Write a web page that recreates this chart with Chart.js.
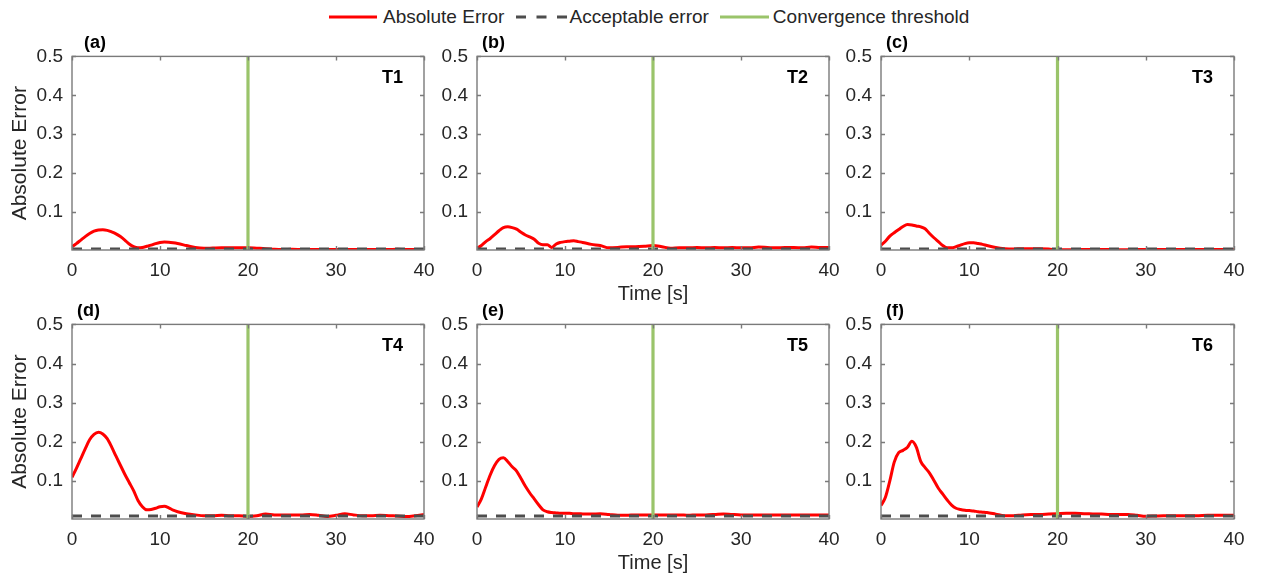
<!DOCTYPE html>
<html>
<head>
<meta charset="utf-8">
<title>Absolute Error</title>
<script src="https://cdn.jsdelivr.net/npm/chart.js@4.4.1/dist/chart.umd.min.js"></script>
<style>
    html, body { margin: 0; padding: 0; background: #fff; }
    body { width: 1262px; height: 578px; position: relative; overflow: hidden;
           font-family: 'Liberation Sans', Arial, sans-serif; }
    canvas { position: absolute; }
    #legend { position: absolute; left: 329px; top: 5px; height: 24px; display: flex;
              align-items: center; font-size: 19px; color: #262626; white-space: nowrap; }
    #legend svg { display: block; }
</style>
</head>
<body>
<div id="legend">
    <svg width="48" height="6"><line x1="0" y1="3" x2="48" y2="3" stroke="#ff0000" stroke-width="3"/></svg>
    <span style="margin-left:6px">Absolute Error</span>
    <svg width="51" height="6" style="margin-left:12px"><line x1="0" y1="3" x2="51" y2="3" stroke="#4d4d4d" stroke-width="3" stroke-dasharray="10 10.5"/></svg>
    <span style="margin-left:2px">Acceptable error</span>
    <svg width="49" height="6" style="margin-left:11px"><line x1="0" y1="3" x2="49" y2="3" stroke="#9ac46a" stroke-width="3"/></svg>
    <span style="margin-left:4px">Convergence threshold</span>
</div>
<script>
// time axis [s]
const time = [0, 0.5, 1, 1.5, 2, 2.5, 3, 3.5, 4, 4.5, 5, 5.5, 6, 6.5, 7, 7.5, 8, 8.5, 9, 9.5,
    10, 10.5, 11, 11.5, 12, 13, 14, 15, 16, 17, 18, 19, 20, 21, 22, 23, 24, 25, 26, 27, 28, 29,
    30, 31, 32, 33, 34, 35, 36, 37, 38, 39, 40];

// absolute error per test case
const errorT1 = [0.011, 0.019, 0.028, 0.037, 0.045, 0.051, 0.054, 0.0545, 0.053, 0.049, 0.044, 0.037, 0.028, 0.018, 0.011, 0.008, 0.009, 0.012, 0.015, 0.019,
    0.022, 0.023, 0.0225, 0.021, 0.019, 0.014, 0.009, 0.007, 0.0075, 0.008, 0.008, 0.0085, 0.008, 0.007, 0.006, 0.0045, 0.004, 0.0042, 0.004, 0.0038, 0.004, 0.0041,
    0.004, 0.0039, 0.004, 0.0041, 0.004, 0.0039, 0.004, 0.0042, 0.004, 0.0041, 0.004];
const errorT2 = [0.007, 0.014, 0.024, 0.032, 0.042, 0.052, 0.060, 0.062, 0.060, 0.056, 0.048, 0.041, 0.036, 0.030, 0.020, 0.016, 0.016, 0.009, 0.018, 0.022,
    0.024, 0.025, 0.026, 0.024, 0.022, 0.017, 0.014, 0.008, 0.009, 0.011, 0.011, 0.012, 0.014, 0.011, 0.007, 0.008, 0.008, 0.009, 0.008, 0.009, 0.008, 0.009,
    0.008, 0.008, 0.010, 0.009, 0.008, 0.009, 0.009, 0.008, 0.010, 0.009, 0.009];
const errorT3 = [0.015, 0.025, 0.038, 0.047, 0.055, 0.063, 0.068, 0.067, 0.064, 0.062, 0.057, 0.045, 0.034, 0.024, 0.014, 0.008, 0.008, 0.011, 0.015, 0.019,
    0.021, 0.021, 0.019, 0.017, 0.014, 0.009, 0.006, 0.005, 0.006, 0.006, 0.006, 0.005, 0.003, 0.003, 0.0035, 0.004, 0.004, 0.004, 0.0035, 0.003, 0.003, 0.0035,
    0.0035, 0.004, 0.004, 0.0035, 0.0035, 0.004, 0.004, 0.0035, 0.0035, 0.0035, 0.0035];
const errorT4 = [0.109, 0.132, 0.157, 0.182, 0.205, 0.219, 0.2245, 0.220, 0.208, 0.187, 0.163, 0.140, 0.117, 0.096, 0.075, 0.050, 0.034, 0.026, 0.027, 0.030,
    0.034, 0.035, 0.031, 0.025, 0.021, 0.016, 0.013, 0.011, 0.011, 0.012, 0.011, 0.011, 0.009, 0.011, 0.015, 0.013, 0.013, 0.013, 0.013, 0.014, 0.012, 0.009,
    0.012, 0.016, 0.013, 0.011, 0.011, 0.012, 0.011, 0.010, 0.009, 0.011, 0.014];
const errorT5 = [0.033, 0.054, 0.085, 0.115, 0.139, 0.155, 0.159, 0.149, 0.136, 0.125, 0.106, 0.086, 0.069, 0.054, 0.039, 0.026, 0.021, 0.019, 0.018, 0.017,
    0.017, 0.017, 0.016, 0.016, 0.0155, 0.015, 0.016, 0.014, 0.012, 0.012, 0.013, 0.013, 0.013, 0.013, 0.013, 0.013, 0.012, 0.013, 0.013, 0.014, 0.0155, 0.014,
    0.013, 0.013, 0.013, 0.013, 0.013, 0.013, 0.013, 0.013, 0.013, 0.013, 0.013];
const errorT6 = [0.037, 0.058, 0.100, 0.148, 0.172, 0.178, 0.186, 0.201, 0.186, 0.150, 0.134, 0.120, 0.101, 0.081, 0.066, 0.051, 0.038, 0.030, 0.027, 0.025,
    0.024, 0.023, 0.021, 0.020, 0.019, 0.015, 0.011, 0.011, 0.013, 0.014, 0.014, 0.015, 0.016, 0.017, 0.017, 0.016, 0.0156, 0.015, 0.014, 0.014, 0.014, 0.012,
    0.0096, 0.010, 0.0105, 0.0105, 0.011, 0.0105, 0.011, 0.012, 0.012, 0.012, 0.012];

const errors = [errorT1, errorT2, errorT3, errorT4, errorT5, errorT6];
const caseNames = ['T1', 'T2', 'T3', 'T4', 'T5', 'T6'];
const panelLetters = ['(a)', '(b)', '(c)', '(d)', '(e)', '(f)'];
const acceptableError = [0.005, 0.005, 0.005, 0.01, 0.01, 0.01];
const convergenceTime = 20;

const xTicks = [0, 10, 20, 30, 40];
const yTicks = [0.1, 0.2, 0.3, 0.4, 0.5];
const yMin = 0.0025;
const yMax = 0.5;

// plot boxes [left, top, right, bottom] on the page
const boxes = [
    [72, 56, 424, 250], [477, 56, 829, 250], [881, 56, 1234, 250],
    [72, 324, 424, 519], [477, 324, 829, 519], [881, 324, 1234, 519]
];
const letterOffset = [12, 5, 5, 5, 5, 5];

const Y_AXIS_W = 72, X_AXIS_H = 56, PAD_TOP = 20, PAD_RIGHT = 20;
const textColor = '#262626';
Chart.defaults.font.family = "'Liberation Sans', Arial, sans-serif";
Chart.defaults.color = textColor;

// box around the axes, inward ticks on all four sides, panel tags
const axesBox = {
    id: 'axesBox',
    afterDatasetsDraw(chart, args, opts) {
        const { ctx, chartArea: a, scales: { x, y } } = chart;
        ctx.save();
        ctx.strokeStyle = '#7a7a7a';
        ctx.lineWidth = 1.4;
        ctx.strokeRect(a.left, a.top, a.width, a.height);
        ctx.beginPath();
        xTicks.forEach(v => {
            const px = Math.round(x.getPixelForValue(v)) + 0.5;
            ctx.moveTo(px, a.bottom); ctx.lineTo(px, a.bottom - 4);
            ctx.moveTo(px, a.top); ctx.lineTo(px, a.top + 4);
        });
        yTicks.forEach(v => {
            const py = Math.round(y.getPixelForValue(v)) + 0.5;
            ctx.moveTo(a.left, py); ctx.lineTo(a.left + 4, py);
            ctx.moveTo(a.right, py); ctx.lineTo(a.right - 4, py);
        });
        ctx.stroke();

        ctx.fillStyle = '#000';
        ctx.font = "bold 18px 'Liberation Sans', Arial, sans-serif";
        ctx.textBaseline = 'middle';
        ctx.textAlign = 'left';
        ctx.fillText(opts.letter, a.left + opts.letterX, a.top - 13);
        ctx.textAlign = 'right';
        ctx.fillText(opts.name, a.right - 21, a.top + 22);
        ctx.restore();
    }
};

boxes.forEach((b, i) => {
    const [L, T, R, B] = b;
    const canvas = document.createElement('canvas');
    canvas.width = (R - L) + Y_AXIS_W + PAD_RIGHT;
    canvas.height = (B - T) + PAD_TOP + X_AXIS_H;
    canvas.style.left = (L - Y_AXIS_W) + 'px';
    canvas.style.top = (T - PAD_TOP) + 'px';
    document.body.appendChild(canvas);

    const col = i % 3;
    new Chart(canvas, {
        type: 'line',
        data: {
            datasets: [
                {
                    label: 'Convergence threshold',
                    data: [{ x: convergenceTime, y: yMin }, { x: convergenceTime, y: yMax }],
                    borderColor: '#9ac46a',
                    borderWidth: 3.2,
                    pointRadius: 0,
                    order: 0
                },
                {
                    label: 'Acceptable error',
                    data: [{ x: 0, y: acceptableError[i] }, { x: 40, y: acceptableError[i] }],
                    borderColor: '#4d4d4d',
                    borderWidth: 3,
                    borderDash: [10, 9],
                    pointRadius: 0,
                    order: 1
                },
                {
                    label: 'Absolute Error',
                    data: time.map((t, k) => ({ x: t, y: errors[i][k] })),
                    borderColor: '#ff0000',
                    borderWidth: 3,
                    pointRadius: 0,
                    cubicInterpolationMode: 'monotone',
                    order: 2
                }
            ]
        },
        options: {
            responsive: false,
            animation: false,
            devicePixelRatio: 1,
            layout: { padding: { top: PAD_TOP, right: PAD_RIGHT, left: 0, bottom: 0 } },
            scales: {
                x: {
                    type: 'linear',
                    min: 0,
                    max: 40,
                    grid: { display: false, drawTicks: false },
                    border: { display: false },
                    afterBuildTicks: s => { s.ticks = xTicks.map(v => ({ value: v })); },
                    afterFit: s => { s.height = X_AXIS_H; },
                    ticks: { font: { size: 19 }, color: textColor, padding: 9, maxRotation: 0 },
                    title: {
                        display: col === 1,
                        text: 'Time [s]',
                        font: { size: 20 },
                        color: textColor,
                        padding: { top: 0, bottom: 0 }
                    }
                },
                y: {
                    type: 'linear',
                    min: yMin,
                    max: yMax,
                    grid: { display: false, drawTicks: false },
                    border: { display: false },
                    afterBuildTicks: s => { s.ticks = yTicks.map(v => ({ value: v })); },
                    afterFit: s => { s.width = Y_AXIS_W; },
                    ticks: { font: { size: 19 }, color: textColor, padding: 9 },
                    title: {
                        display: col === 0,
                        text: 'Absolute Error',
                        font: { size: 21 },
                        color: textColor,
                        padding: { top: 8, bottom: 0 }
                    }
                }
            },
            plugins: {
                legend: { display: false },
                tooltip: { enabled: false },
                axesBox: { letter: panelLetters[i], name: caseNames[i], letterX: letterOffset[i] }
            }
        },
        plugins: [axesBox]
    });
});
</script>
</body>
</html>
